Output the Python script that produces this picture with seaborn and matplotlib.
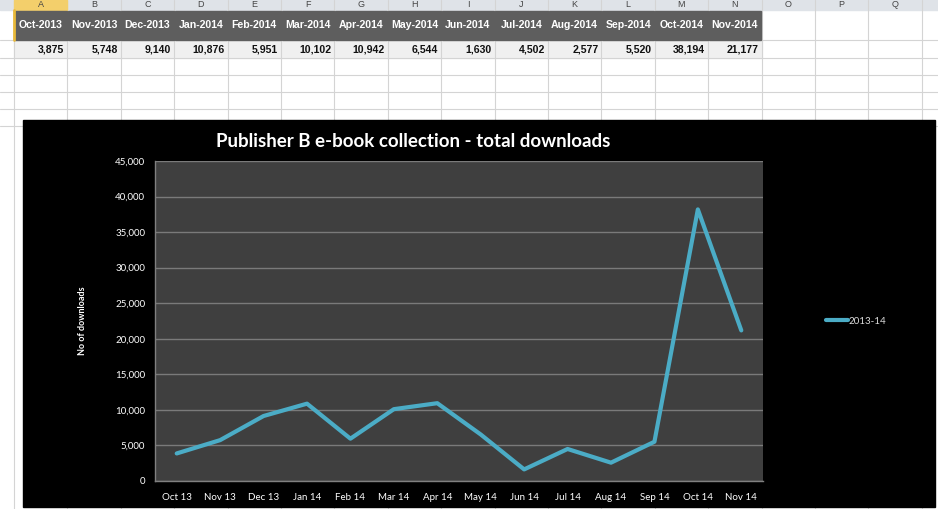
import matplotlib
matplotlib.use("Agg")
import matplotlib.pyplot as plt
from matplotlib.patches import Rectangle
import seaborn as sns
import pandas as pd

# data from the sheet
col_letters = ["A", "B", "C", "D", "E", "F", "G", "H", "I", "J", "K", "L", "M", "N", "O", "P", "Q"]
sheet_months = ["Oct-2013", "Nov-2013", "Dec-2013", "Jan-2014", "Feb-2014", "Mar-2014", "Apr-2014",
                "May-2014", "Jun-2014", "Jul-2014", "Aug-2014", "Sep-2014", "Oct-2014", "Nov-2014"]
axis_months = ["Oct 13", "Nov 13", "Dec 13", "Jan 14", "Feb 14", "Mar 14", "Apr 14",
               "May 14", "Jun 14", "Jul 14", "Aug 14", "Sep 14", "Oct 14", "Nov 14"]
downloads = [3875, 5748, 9140, 10876, 5951, 10102, 10942, 6544, 1630, 4502, 2577, 5520, 38194, 21177]
series_name = "2013-14"

df = pd.DataFrame({"month": axis_months, "downloads": downloads})

sns.set_style("white")
plt.rcParams["font.family"] = ["Lato", "DejaVu Sans"]

W, H = 938, 509
fig = plt.figure(figsize=(W / 100, H / 100), dpi=100)

# spreadsheet backdrop, in pixel coords
bg = fig.add_axes([0, 0, 1, 1])
bg.set_xlim(0, W)
bg.set_ylim(H, 0)
bg.axis("off")

col_x = [14 + i * 53.4 for i in range(len(col_letters) + 1)]
row_y = [10, 40, 58, 75, 92, 109, 126]

bg.add_patch(Rectangle((0, 0), W, 10, color="#dfe3e8", zorder=1))
bg.add_patch(Rectangle((col_x[0], 0), col_x[1] - col_x[0], 10, color="#f3cf6b", zorder=2))
for i, letter in enumerate(col_letters):
    bg.text((col_x[i] + col_x[i + 1]) / 2, 4, letter, ha="center", va="center",
            fontsize=6.5, color="#444444", family="Liberation Sans", zorder=3)
for x in col_x:
    bg.plot([x, x], [0, H], color="#d4d4d4", lw=0.8, zorder=1.5)
for y in row_y[1:]:
    bg.plot([0, W], [y, y], color="#d4d4d4", lw=0.8, zorder=1.5)

for i, (m, v) in enumerate(zip(sheet_months, downloads)):
    x0, x1 = col_x[i], col_x[i + 1]
    bg.add_patch(Rectangle((x0 + 0.5, row_y[0] + 0.5), x1 - x0 - 1, row_y[1] - row_y[0] - 1,
                           color="#5e5e5e", zorder=2))
    bg.add_patch(Rectangle((x0, row_y[1]), x1 - x0, row_y[2] - row_y[1], color="#f0f0f0", zorder=1.2))
    bg.text((x0 + x1) / 2, (row_y[0] + row_y[1]) / 2, m, ha="center", va="center",
            fontsize=7.6, weight="bold", color="white", family="Liberation Sans", zorder=3)
    bg.text(x1 - 3, (row_y[1] + row_y[2]) / 2, f"{v:,}", ha="right", va="center",
            fontsize=7.6, weight="bold", color="#111111", family="Liberation Sans", zorder=3)
bg.plot([col_x[0], col_x[0]], [10, 40], color="#e8b93a", lw=2, zorder=4)

# chart area (black)
bg.add_patch(Rectangle((23, 120), 912, 387, color="black", zorder=5))

ax = fig.add_axes([155 / W, 1 - 481 / H, (763 - 155) / W, (481 - 161) / H])
ax.set_facecolor("#3f3f3f")
sns.lineplot(data=df, x="month", y="downloads", ax=ax, color="#4bacc6", linewidth=3,
             sort=False, label=series_name)

ax.set_xlim(-0.5, len(axis_months) - 0.5)
ax.set_ylim(0, 45000)
ax.set_yticks(range(0, 45001, 5000))
ax.set_yticklabels([f"{t:,}" for t in range(0, 45001, 5000)])
ax.set_xticks(range(len(axis_months)))
ax.set_xticklabels(axis_months)
ax.set_xticks([i - 0.5 for i in range(len(axis_months) + 1)], minor=True)
ax.tick_params(axis="x", which="major", length=0, pad=9, labelsize=7, colors="white")
ax.tick_params(axis="x", which="minor", length=4, color="#808080", direction="out")
ax.tick_params(axis="y", length=4, color="#808080", direction="out", labelsize=7,
               colors="white", pad=3)
ax.grid(axis="y", color="#7a7a7a", lw=1)
ax.set_axisbelow(True)
for side in ["top", "right"]:
    ax.spines[side].set_visible(False)
for side in ["left", "bottom"]:
    ax.spines[side].set_color("#808080")
    ax.spines[side].set_linewidth(1)

ax.set_xlabel("")
ax.set_ylabel("No of downloads", fontsize=6.5, weight="bold", color="white", labelpad=20)

fig.text(413 / W, 1 - 142 / H, "Publisher B e-book collection - total downloads",
         ha="center", va="center", fontsize=13.5, weight="bold", color="white")

ax.legend(loc="center left", bbox_to_anchor=(1.09, 0.5), frameon=False, fontsize=7,
          labelcolor="#dddddd", handlelength=2.2, handletextpad=0.1)

fig.savefig("out.png", dpi=100, facecolor="white")
